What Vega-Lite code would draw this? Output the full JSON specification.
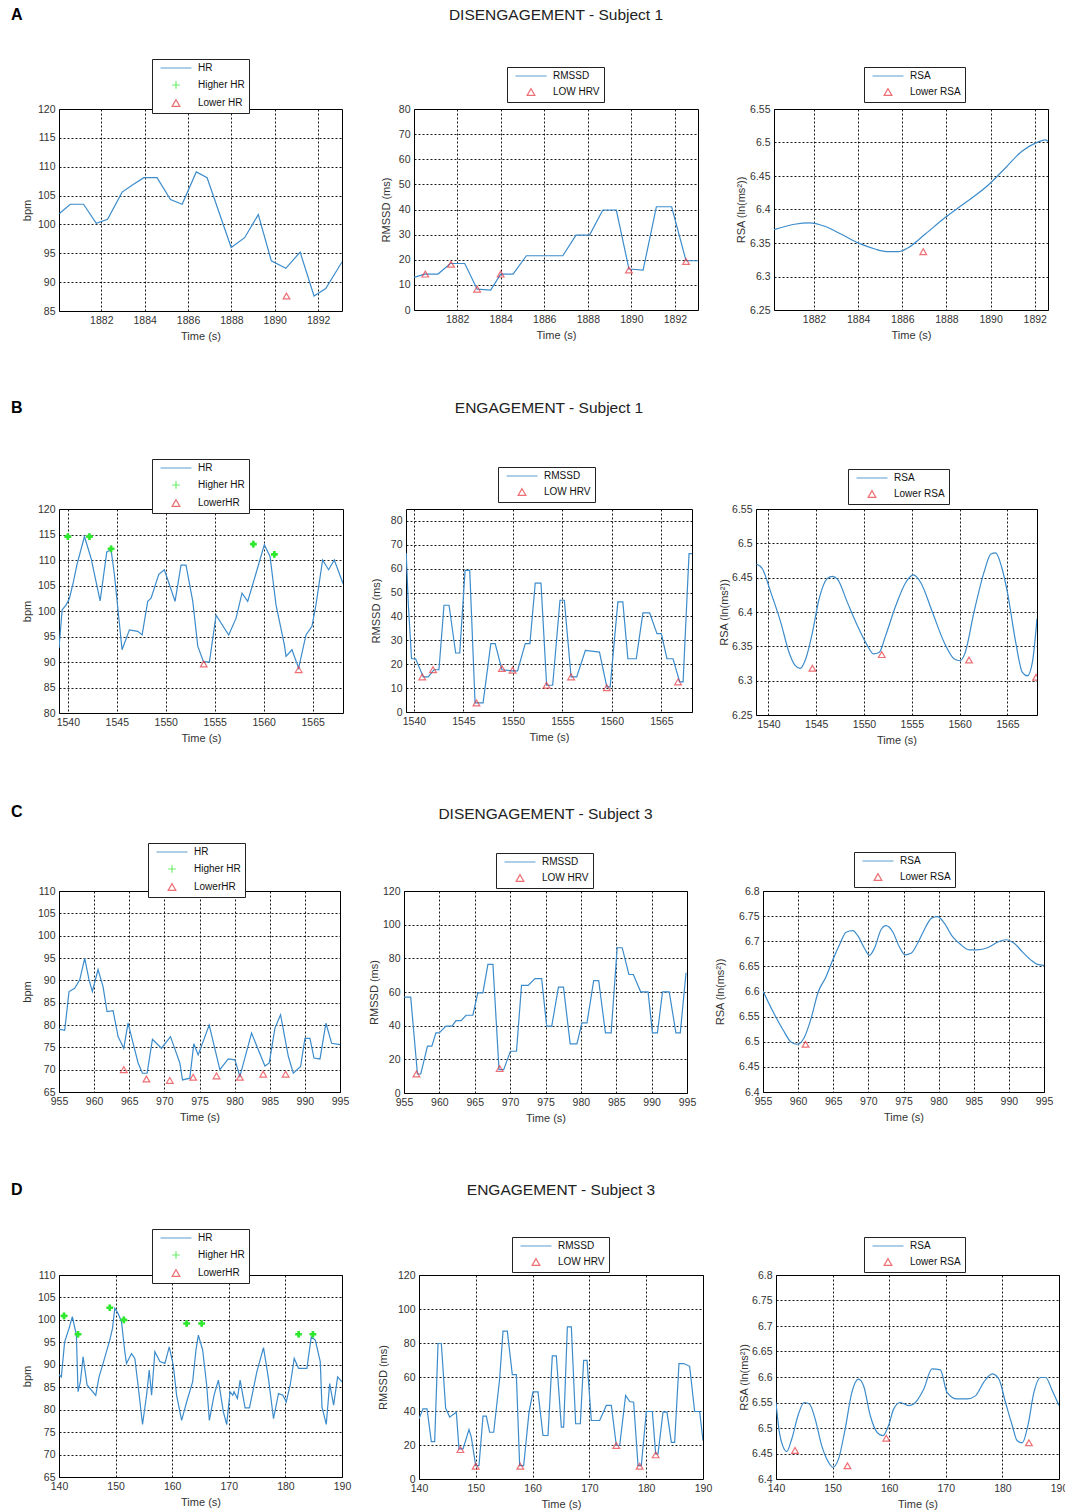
{
"$schema": "https://vega.github.io/schema/vega-lite/v6.json",
"padding": {"left": 10, "top": 6, "right": 0, "bottom": 0},
"background": "white",
"columns": 1,
"align": "none",
"spacing": 57,
"resolve": {"scale": {"color": "independent", "shape": "independent"}, "legend": {"color": "independent", "shape": "independent"}},
"config": {
  "font": "Liberation Sans",
  "view": {"stroke": "#000", "strokeWidth": 1},
  "axis": {"grid": true, "gridColor": "#000", "gridDash": [2, 2], "gridWidth": 1, "gridOpacity": 0.9, "domain": false, "ticks": false, "labelFont": "Liberation Sans", "labelFontSize": 10.5, "labelColor": "#333", "labelPadding": 4, "labelFlush": false, "labelOverlap": false, "titleFont": "Liberation Sans", "titleFontSize": 11, "titleFontWeight": "normal", "titleColor": "#333", "titlePadding": 5},
  "legend": {"orient": "none", "direction": "vertical", "strokeColor": "#222", "fillColor": "#fff", "padding": 4, "labelFont": "Liberation Sans", "labelFontSize": 10, "labelColor": "#111", "symbolSize": 60, "symbolStrokeWidth": 1.5, "symbolOffset": 15, "labelOffset": 17, "rowPadding": 5, "cornerRadius": 0},
  "title": {"font": "Liberation Sans", "color": "#222"},
  "point": {"filled": false, "size": 45, "strokeWidth": 1.2}
},
"concat": [
 {
  "spacing": 36,
  "resolve": {"scale": {"color": "independent", "shape": "independent"}, "legend": {"color": "independent", "shape": "independent"}},
  "hconcat": [
   {
    "width": 283, "height": 202,
    "title": {"text": "A", "anchor": "start", "frame": "group", "dx": -48, "fontSize": 16, "fontWeight": "bold", "offset": 36, "color": "#000"},
    "data": {"values": [{"t": 1890.54, "v": 87.6, "s": "Lower HR"}]},
    "encoding": {
      "x": {"field": "t", "type": "quantitative", "scale": {"domain": [1880.05, 1893.1], "nice": false, "zero": false}, "axis": {"title": "Time (s)", "values": [1882, 1884, 1886, 1888, 1890, 1892], "format": "d"}},
      "y": {"field": "v", "type": "quantitative", "scale": {"domain": [85, 120], "nice": false, "zero": false}, "axis": {"title": "bpm", "values": [85, 90, 95, 100, 105, 110, 115, 120], "format": "d"}}
    },
    "layer": [
     {"data": {"values": [
      {"t": 1880.07, "v": 101.9}, {"t": 1880.57, "v": 103.5}, {"t": 1881.18, "v": 103.5}, {"t": 1881.77, "v": 100.2}, {"t": 1882.29, "v": 100.9}, {"t": 1882.96, "v": 105.6}, {"t": 1883.42, "v": 106.8}, {"t": 1883.96, "v": 108.1}, {"t": 1884.57, "v": 108.1}, {"t": 1885.19, "v": 104.3}, {"t": 1885.73, "v": 103.5}, {"t": 1886.38, "v": 109.1}, {"t": 1886.88, "v": 108.1}, {"t": 1887.99, "v": 96.0}, {"t": 1888.61, "v": 97.7}, {"t": 1889.24, "v": 101.7}, {"t": 1889.84, "v": 93.7}, {"t": 1890.51, "v": 92.4}, {"t": 1891.17, "v": 95.2}, {"t": 1891.81, "v": 87.6}, {"t": 1892.35, "v": 88.9}, {"t": 1893.1, "v": 93.5}
     ]},
      "mark": {"type": "line", "color": "#3c8ccc", "strokeWidth": 1.2, "clip": true}},
     {"mark": {"type": "point", "clip": true},
      "encoding": {
       "color": {"field": "s", "type": "nominal", "title": null, "scale": {"domain": ["HR", "Higher HR", "Lower HR"], "range": ["#3c8ccc", "#2ee82e", "#e8343c"]}, "legend": {"title": null, "legendX": 93, "legendY": -50}},
       "shape": {"field": "s", "type": "nominal", "title": null, "scale": {"domain": ["HR", "Higher HR", "Lower HR"], "range": ["M-4,0H4", "M-1,0H1M0,-1V1", "triangle-up"]}, "legend": {"title": null, "legendX": 93, "legendY": -50}}
      }}
    ]
   },
   {
    "width": 284, "height": 201,
    "title": {"text": "DISENGAGEMENT - Subject 1", "anchor": "middle", "frame": "group", "fontSize": 15.5, "fontWeight": "normal", "offset": 43},
    "encoding": {
      "x": {"field": "t", "type": "quantitative", "scale": {"domain": [1880.02, 1893.06], "nice": false, "zero": false}, "axis": {"title": "Time (s)", "values": [1882, 1884, 1886, 1888, 1890, 1892], "format": "d"}},
      "y": {"field": "v", "type": "quantitative", "scale": {"domain": [0, 80], "nice": false}, "axis": {"title": "RMSSD (ms)", "titlePadding": 7, "values": [0, 10, 20, 30, 40, 50, 60, 70, 80], "format": "d"}}
    },
    "layer": [
     {"data": {"values": [
      {"t": 1880.02, "v": 13.0}, {"t": 1880.51, "v": 14.3}, {"t": 1881.12, "v": 14.3}, {"t": 1881.69, "v": 18.5}, {"t": 1882.35, "v": 18.5}, {"t": 1882.92, "v": 8.3}, {"t": 1883.54, "v": 7.9}, {"t": 1884.0, "v": 14.3}, {"t": 1884.57, "v": 14.3}, {"t": 1885.18, "v": 21.6}, {"t": 1886.85, "v": 21.6}, {"t": 1887.46, "v": 29.8}, {"t": 1888.08, "v": 29.8}, {"t": 1888.69, "v": 39.8}, {"t": 1889.31, "v": 39.8}, {"t": 1889.89, "v": 16.3}, {"t": 1890.54, "v": 15.9}, {"t": 1891.15, "v": 41.1}, {"t": 1891.85, "v": 41.1}, {"t": 1892.51, "v": 19.6}, {"t": 1893.06, "v": 19.6}
     ]},
      "mark": {"type": "line", "color": "#3c8ccc", "strokeWidth": 1.2, "clip": true}},
     {"data": {"values": [
      {"t": 1880.54, "v": 14.3, "s": "LOW HRV"}, {"t": 1881.72, "v": 18.2, "s": "LOW HRV"}, {"t": 1882.92, "v": 8.3, "s": "LOW HRV"}, {"t": 1884.0, "v": 14.3, "s": "LOW HRV"}, {"t": 1889.89, "v": 15.9, "s": "LOW HRV"}, {"t": 1892.51, "v": 19.3, "s": "LOW HRV"}
     ]},
      "mark": {"type": "point", "clip": true},
      "encoding": {
       "color": {"field": "s", "type": "nominal", "title": null, "scale": {"domain": ["RMSSD", "LOW HRV"], "range": ["#3c8ccc", "#e8343c"]}, "legend": {"title": null, "legendX": 93, "legendY": -42}},
       "shape": {"field": "s", "type": "nominal", "title": null, "scale": {"domain": ["RMSSD", "LOW HRV"], "range": ["M-4,0H4", "triangle-up"]}, "legend": {"title": null, "legendX": 93, "legendY": -42}}
      }}
    ]
   },
   {
    "width": 274, "height": 201,
    "encoding": {
      "x": {"field": "t", "type": "quantitative", "scale": {"domain": [1880.19, 1892.6], "nice": false, "zero": false}, "axis": {"title": "Time (s)", "values": [1882, 1884, 1886, 1888, 1890, 1892], "format": "d"}},
      "y": {"field": "v", "type": "quantitative", "scale": {"domain": [6.25, 6.55], "nice": false, "zero": false}, "axis": {"title": "RSA (ln(ms²))", "titlePadding": 3, "values": [6.25, 6.3, 6.35, 6.4, 6.45, 6.5, 6.55], "format": "~g"}}
    },
    "layer": [
     {"data": {"values": [
      {"t": 1880.19, "v": 6.370}, {"t": 1881.12, "v": 6.378}, {"t": 1881.8, "v": 6.380}, {"t": 1882.48, "v": 6.375}, {"t": 1883.24, "v": 6.363}, {"t": 1884.08, "v": 6.349}, {"t": 1884.76, "v": 6.341}, {"t": 1885.36, "v": 6.337}, {"t": 1885.82, "v": 6.337}, {"t": 1886.27, "v": 6.343}, {"t": 1887.03, "v": 6.363}, {"t": 1887.94, "v": 6.388}, {"t": 1888.85, "v": 6.410}, {"t": 1889.91, "v": 6.437}, {"t": 1890.67, "v": 6.462}, {"t": 1891.42, "v": 6.487}, {"t": 1892.03, "v": 6.499}, {"t": 1892.48, "v": 6.504}, {"t": 1892.6, "v": 6.502}
     ]},
      "mark": {"type": "line", "color": "#3c8ccc", "strokeWidth": 1.2, "clip": true, "interpolate": "monotone"}},
     {"data": {"values": [{"t": 1886.95, "v": 6.337, "s": "Lower RSA"}]},
      "mark": {"type": "point", "clip": true},
      "encoding": {
       "color": {"field": "s", "type": "nominal", "title": null, "scale": {"domain": ["RSA", "Lower RSA"], "range": ["#3c8ccc", "#e8343c"]}, "legend": {"title": null, "legendX": 90, "legendY": -42}},
       "shape": {"field": "s", "type": "nominal", "title": null, "scale": {"domain": ["RSA", "Lower RSA"], "range": ["M-4,0H4", "triangle-up"]}, "legend": {"title": null, "legendX": 90, "legendY": -42}}
      }}
    ]
   }
  ]
 },
 {
  "spacing": 25,
  "resolve": {"scale": {"color": "independent", "shape": "independent"}, "legend": {"color": "independent", "shape": "independent"}},
  "hconcat": [
   {
    "width": 284, "height": 204,
    "title": {"text": "B", "anchor": "start", "frame": "group", "dx": -48, "fontSize": 16, "fontWeight": "bold", "offset": 43, "color": "#000"},
    "data": {"values": [
      {"t": 1540.0, "v": 114.6, "s": "Higher HR"}, {"t": 1542.21, "v": 114.6, "s": "Higher HR"}, {"t": 1544.42, "v": 112.2, "s": "Higher HR"}, {"t": 1558.95, "v": 113.1, "s": "Higher HR"}, {"t": 1561.09, "v": 111.1, "s": "Higher HR"}, {"t": 1553.88, "v": 89.6, "s": "LowerHR"}, {"t": 1563.57, "v": 88.5, "s": "LowerHR"}
    ]},
    "encoding": {
      "x": {"field": "t", "type": "quantitative", "scale": {"domain": [1539.1, 1568.1], "nice": false, "zero": false}, "axis": {"title": "Time (s)", "values": [1540, 1545, 1550, 1555, 1560, 1565], "format": "d"}},
      "y": {"field": "v", "type": "quantitative", "scale": {"domain": [80, 120], "nice": false, "zero": false}, "axis": {"title": "bpm", "values": [80, 85, 90, 95, 100, 105, 110, 115, 120], "format": "d"}}
    },
    "layer": [
     {"data": {"values": [
      {"t": 1539.1, "v": 92.7}, {"t": 1539.42, "v": 100.2}, {"t": 1539.83, "v": 101.2}, {"t": 1540.17, "v": 102.5}, {"t": 1540.58, "v": 105.8}, {"t": 1540.92, "v": 109.0}, {"t": 1541.7, "v": 114.6}, {"t": 1542.38, "v": 110.3}, {"t": 1543.3, "v": 102.0}, {"t": 1543.98, "v": 111.6}, {"t": 1544.42, "v": 112.0}, {"t": 1544.76, "v": 107.1}, {"t": 1545.54, "v": 92.4}, {"t": 1546.29, "v": 96.3}, {"t": 1547.14, "v": 96.0}, {"t": 1547.59, "v": 95.3}, {"t": 1548.16, "v": 101.9}, {"t": 1548.5, "v": 102.5}, {"t": 1549.29, "v": 107.2}, {"t": 1549.86, "v": 108.1}, {"t": 1550.95, "v": 101.9}, {"t": 1551.56, "v": 109.0}, {"t": 1552.07, "v": 109.0}, {"t": 1552.76, "v": 101.9}, {"t": 1553.27, "v": 93.1}, {"t": 1553.84, "v": 90.1}, {"t": 1554.46, "v": 90.0}, {"t": 1555.14, "v": 99.2}, {"t": 1556.43, "v": 95.3}, {"t": 1557.18, "v": 98.6}, {"t": 1557.79, "v": 103.5}, {"t": 1558.37, "v": 101.9}, {"t": 1559.22, "v": 107.4}, {"t": 1560.07, "v": 113.0}, {"t": 1560.65, "v": 110.7}, {"t": 1561.26, "v": 101.2}, {"t": 1562.11, "v": 93.4}, {"t": 1562.28, "v": 91.1}, {"t": 1562.89, "v": 92.4}, {"t": 1563.57, "v": 88.8}, {"t": 1564.32, "v": 95.3}, {"t": 1564.93, "v": 97.0}, {"t": 1565.34, "v": 101.2}, {"t": 1566.02, "v": 110.0}, {"t": 1566.63, "v": 108.1}, {"t": 1567.21, "v": 110.0}, {"t": 1568.1, "v": 105.4}
     ]},
      "mark": {"type": "line", "color": "#3c8ccc", "strokeWidth": 1.2, "clip": true}},
     {"mark": {"type": "point", "clip": true},
      "encoding": {
       "color": {"field": "s", "type": "nominal", "title": null, "scale": {"domain": ["HR", "Higher HR", "LowerHR"], "range": ["#3c8ccc", "#2ee82e", "#e8343c"]}, "legend": {"title": null, "legendX": 93, "legendY": -50}},
       "shape": {"field": "s", "type": "nominal", "title": null, "scale": {"domain": ["HR", "Higher HR", "LowerHR"], "range": ["M-4,0H4", "M-1,0H1M0,-1V1", "triangle-up"]}, "legend": {"title": null, "legendX": 93, "legendY": -50}}
      }},
     {"transform": [{"filter": "datum.s == 'Higher HR'"}],
      "mark": {"type": "point", "shape": "cross", "filled": true, "color": "#2ee82e", "size": 45, "opacity": 1, "clip": true}}
    ]
   },
   {
    "width": 286, "height": 203,
    "title": {"text": "ENGAGEMENT - Subject 1", "anchor": "middle", "frame": "group", "fontSize": 15.5, "fontWeight": "normal", "offset": 50},
    "encoding": {
      "x": {"field": "t", "type": "quantitative", "scale": {"domain": [1539.2, 1568.1], "nice": false, "zero": false}, "axis": {"title": "Time (s)", "values": [1540, 1545, 1550, 1555, 1560, 1565], "format": "d"}},
      "y": {"field": "v", "type": "quantitative", "scale": {"domain": [0, 85], "nice": false}, "axis": {"title": "RMSSD (ms)", "titlePadding": 9, "values": [0, 10, 20, 30, 40, 50, 60, 70, 80], "format": "d"}}
    },
    "layer": [
     {"data": {"values": [
      {"t": 1539.22, "v": 66.6}, {"t": 1539.43, "v": 45.4}, {"t": 1539.76, "v": 22.3}, {"t": 1540.17, "v": 22.3}, {"t": 1540.95, "v": 14.7}, {"t": 1541.45, "v": 14.7}, {"t": 1542.03, "v": 17.7}, {"t": 1542.53, "v": 17.7}, {"t": 1543.04, "v": 44.7}, {"t": 1543.55, "v": 44.7}, {"t": 1544.22, "v": 24.7}, {"t": 1544.63, "v": 24.7}, {"t": 1545.17, "v": 59.3}, {"t": 1545.64, "v": 59.3}, {"t": 1546.18, "v": 3.8}, {"t": 1546.99, "v": 3.8}, {"t": 1547.77, "v": 28.6}, {"t": 1548.21, "v": 28.6}, {"t": 1548.89, "v": 17.7}, {"t": 1549.9, "v": 17.2}, {"t": 1550.47, "v": 17.2}, {"t": 1551.25, "v": 28.6}, {"t": 1551.72, "v": 28.6}, {"t": 1552.26, "v": 54.0}, {"t": 1552.84, "v": 54.0}, {"t": 1553.41, "v": 11.2}, {"t": 1554.02, "v": 11.2}, {"t": 1554.76, "v": 46.8}, {"t": 1555.2, "v": 46.8}, {"t": 1555.88, "v": 14.7}, {"t": 1556.45, "v": 14.7}, {"t": 1557.33, "v": 25.8}, {"t": 1558.75, "v": 25.1}, {"t": 1559.49, "v": 10.5}, {"t": 1559.83, "v": 10.5}, {"t": 1560.61, "v": 46.1}, {"t": 1561.11, "v": 46.1}, {"t": 1561.62, "v": 22.3}, {"t": 1562.47, "v": 22.3}, {"t": 1563.14, "v": 41.5}, {"t": 1563.82, "v": 41.5}, {"t": 1564.56, "v": 32.8}, {"t": 1565.0, "v": 32.8}, {"t": 1565.57, "v": 22.3}, {"t": 1566.18, "v": 22.3}, {"t": 1566.86, "v": 12.6}, {"t": 1567.2, "v": 12.6}, {"t": 1567.8, "v": 66.3}, {"t": 1568.1, "v": 66.3}
     ]},
      "mark": {"type": "line", "color": "#3c8ccc", "strokeWidth": 1.2, "clip": true}},
     {"data": {"values": [
      {"t": 1540.84, "v": 14.7, "s": "LOW HRV"}, {"t": 1541.93, "v": 17.7, "s": "LOW HRV"}, {"t": 1546.32, "v": 3.8, "s": "LOW HRV"}, {"t": 1548.89, "v": 18.2, "s": "LOW HRV"}, {"t": 1549.97, "v": 17.5, "s": "LOW HRV"}, {"t": 1553.41, "v": 11.2, "s": "LOW HRV"}, {"t": 1555.88, "v": 14.7, "s": "LOW HRV"}, {"t": 1559.49, "v": 10.2, "s": "LOW HRV"}, {"t": 1566.69, "v": 12.6, "s": "LOW HRV"}
     ]},
      "mark": {"type": "point", "clip": true},
      "encoding": {
       "color": {"field": "s", "type": "nominal", "title": null, "scale": {"domain": ["RMSSD", "LOW HRV"], "range": ["#3c8ccc", "#e8343c"]}, "legend": {"title": null, "legendX": 92, "legendY": -42}},
       "shape": {"field": "s", "type": "nominal", "title": null, "scale": {"domain": ["RMSSD", "LOW HRV"], "range": ["M-4,0H4", "triangle-up"]}, "legend": {"title": null, "legendX": 92, "legendY": -42}}
      }}
    ]
   },
   {
    "width": 281, "height": 206,
    "encoding": {
      "x": {"field": "t", "type": "quantitative", "scale": {"domain": [1538.7, 1568.1], "nice": false, "zero": false}, "axis": {"title": "Time (s)", "values": [1540, 1545, 1550, 1555, 1560, 1565], "format": "d"}},
      "y": {"field": "v", "type": "quantitative", "scale": {"domain": [6.25, 6.55], "nice": false, "zero": false}, "axis": {"title": "RSA (ln(ms²))", "titlePadding": 2, "values": [6.25, 6.3, 6.35, 6.4, 6.45, 6.5, 6.55], "format": "~g"}}
    },
    "layer": [
     {"data": {"values": [
      {"t": 1538.74, "v": 6.470}, {"t": 1539.37, "v": 6.463}, {"t": 1540.24, "v": 6.429}, {"t": 1541.29, "v": 6.385}, {"t": 1542.16, "v": 6.341}, {"t": 1542.75, "v": 6.323}, {"t": 1543.31, "v": 6.318}, {"t": 1543.91, "v": 6.332}, {"t": 1544.6, "v": 6.370}, {"t": 1545.3, "v": 6.419}, {"t": 1546.17, "v": 6.449}, {"t": 1546.69, "v": 6.452}, {"t": 1547.22, "v": 6.448}, {"t": 1548.26, "v": 6.414}, {"t": 1549.31, "v": 6.380}, {"t": 1550.36, "v": 6.351}, {"t": 1550.98, "v": 6.339}, {"t": 1551.58, "v": 6.341}, {"t": 1552.27, "v": 6.366}, {"t": 1553.32, "v": 6.409}, {"t": 1554.37, "v": 6.443}, {"t": 1555.17, "v": 6.454}, {"t": 1555.93, "v": 6.443}, {"t": 1557.15, "v": 6.400}, {"t": 1558.38, "v": 6.356}, {"t": 1559.42, "v": 6.332}, {"t": 1560.05, "v": 6.329}, {"t": 1560.54, "v": 6.339}, {"t": 1561.51, "v": 6.400}, {"t": 1562.56, "v": 6.458}, {"t": 1563.26, "v": 6.484}, {"t": 1563.78, "v": 6.486}, {"t": 1564.37, "v": 6.467}, {"t": 1565.0, "v": 6.429}, {"t": 1565.87, "v": 6.356}, {"t": 1566.57, "v": 6.312}, {"t": 1567.09, "v": 6.307}, {"t": 1567.62, "v": 6.327}, {"t": 1568.1, "v": 6.390}
     ]},
      "mark": {"type": "line", "color": "#3c8ccc", "strokeWidth": 1.2, "clip": true, "interpolate": "monotone"}},
     {"data": {"values": [
      {"t": 1544.6, "v": 6.318, "s": "Lower RSA"}, {"t": 1551.86, "v": 6.338, "s": "Lower RSA"}, {"t": 1560.99, "v": 6.330, "s": "Lower RSA"}, {"t": 1568.0, "v": 6.305, "s": "Lower RSA"}
     ]},
      "mark": {"type": "point", "clip": true},
      "encoding": {
       "color": {"field": "s", "type": "nominal", "title": null, "scale": {"domain": ["RSA", "Lower RSA"], "range": ["#3c8ccc", "#e8343c"]}, "legend": {"title": null, "legendX": 92, "legendY": -40}},
       "shape": {"field": "s", "type": "nominal", "title": null, "scale": {"domain": ["RSA", "Lower RSA"], "range": ["M-4,0H4", "triangle-up"]}, "legend": {"title": null, "legendX": 92, "legendY": -40}}
      }}
    ]
   }
  ]
 },
 {
  "spacing": 17,
  "resolve": {"scale": {"color": "independent", "shape": "independent"}, "legend": {"color": "independent", "shape": "independent"}},
  "hconcat": [
   {
    "width": 281, "height": 201,
    "title": {"text": "C", "anchor": "start", "frame": "group", "dx": -48, "fontSize": 16, "fontWeight": "bold", "offset": 23, "color": "#000"},
    "data": {"values": [
      {"t": 964.22, "v": 70.0, "s": "LowerHR"}, {"t": 967.45, "v": 67.9, "s": "LowerHR"}, {"t": 970.77, "v": 67.6, "s": "LowerHR"}, {"t": 974.1, "v": 68.3, "s": "LowerHR"}, {"t": 977.42, "v": 68.6, "s": "LowerHR"}, {"t": 980.75, "v": 68.3, "s": "LowerHR"}, {"t": 984.07, "v": 69.0, "s": "LowerHR"}, {"t": 987.26, "v": 69.0, "s": "LowerHR"}
    ]},
    "encoding": {
      "x": {"field": "t", "type": "quantitative", "scale": {"domain": [955, 995], "nice": false, "zero": false}, "axis": {"title": "Time (s)", "values": [955, 960, 965, 970, 975, 980, 985, 990, 995], "format": "d"}},
      "y": {"field": "v", "type": "quantitative", "scale": {"domain": [65, 110], "nice": false, "zero": false}, "axis": {"title": "bpm", "values": [65, 70, 75, 80, 85, 90, 95, 100, 105, 110], "format": "d"}}
    },
    "layer": [
     {"data": {"values": [
      {"t": 955.0, "v": 79.1}, {"t": 955.81, "v": 78.8}, {"t": 956.43, "v": 87.5}, {"t": 957.23, "v": 88.2}, {"t": 957.95, "v": 90.1}, {"t": 958.66, "v": 94.9}, {"t": 959.28, "v": 90.1}, {"t": 959.75, "v": 87.5}, {"t": 960.56, "v": 92.4}, {"t": 961.27, "v": 88.6}, {"t": 961.84, "v": 83.0}, {"t": 962.7, "v": 83.2}, {"t": 963.41, "v": 77.4}, {"t": 964.22, "v": 74.8}, {"t": 964.83, "v": 80.4}, {"t": 966.26, "v": 71.5}, {"t": 966.88, "v": 69.2}, {"t": 967.54, "v": 69.2}, {"t": 968.3, "v": 76.8}, {"t": 969.58, "v": 74.8}, {"t": 970.87, "v": 77.4}, {"t": 972.2, "v": 71.5}, {"t": 972.58, "v": 67.7}, {"t": 973.62, "v": 68.1}, {"t": 974.19, "v": 75.8}, {"t": 974.81, "v": 73.3}, {"t": 976.38, "v": 80.0}, {"t": 977.9, "v": 70.0}, {"t": 979.09, "v": 72.4}, {"t": 980.04, "v": 72.2}, {"t": 980.75, "v": 68.5}, {"t": 982.41, "v": 78.2}, {"t": 984.31, "v": 70.8}, {"t": 984.93, "v": 71.5}, {"t": 985.74, "v": 79.3}, {"t": 986.54, "v": 82.3}, {"t": 987.64, "v": 73.0}, {"t": 988.35, "v": 69.2}, {"t": 989.39, "v": 70.7}, {"t": 990.01, "v": 77.0}, {"t": 990.72, "v": 77.0}, {"t": 991.3, "v": 72.6}, {"t": 992.15, "v": 72.4}, {"t": 993.0, "v": 80.4}, {"t": 993.81, "v": 75.9}, {"t": 995.0, "v": 75.6}
     ]},
      "mark": {"type": "line", "color": "#3c8ccc", "strokeWidth": 1.2, "clip": true}},
     {"mark": {"type": "point", "clip": true},
      "encoding": {
       "color": {"field": "s", "type": "nominal", "title": null, "scale": {"domain": ["HR", "Higher HR", "LowerHR"], "range": ["#3c8ccc", "#2ee82e", "#e8343c"]}, "legend": {"title": null, "legendX": 89, "legendY": -48}},
       "shape": {"field": "s", "type": "nominal", "title": null, "scale": {"domain": ["HR", "Higher HR", "LowerHR"], "range": ["M-4,0H4", "M-1,0H1M0,-1V1", "triangle-up"]}, "legend": {"title": null, "legendX": 89, "legendY": -48}}
      }}
    ]
   },
   {
    "width": 283, "height": 202,
    "title": {"text": "DISENGAGEMENT - Subject 3", "anchor": "middle", "frame": "group", "fontSize": 15.5, "fontWeight": "normal", "offset": 30},
    "encoding": {
      "x": {"field": "t", "type": "quantitative", "scale": {"domain": [955, 995], "nice": false, "zero": false}, "axis": {"title": "Time (s)", "values": [955, 960, 965, 970, 975, 980, 985, 990, 995], "format": "d"}},
      "y": {"field": "v", "type": "quantitative", "scale": {"domain": [0, 120], "nice": false}, "axis": {"title": "RMSSD (ms)", "titlePadding": 3, "values": [0, 20, 40, 60, 80, 100, 120], "format": "d"}}
    },
    "layer": [
     {"data": {"values": [
      {"t": 955.0, "v": 56.9}, {"t": 955.95, "v": 56.9}, {"t": 956.9, "v": 11.3}, {"t": 957.37, "v": 11.3}, {"t": 958.32, "v": 27.8}, {"t": 958.94, "v": 27.8}, {"t": 959.51, "v": 35.7}, {"t": 959.98, "v": 35.7}, {"t": 960.93, "v": 39.7}, {"t": 961.79, "v": 39.7}, {"t": 962.35, "v": 43.0}, {"t": 963.07, "v": 43.0}, {"t": 963.78, "v": 46.2}, {"t": 964.73, "v": 46.2}, {"t": 965.44, "v": 59.5}, {"t": 966.15, "v": 59.5}, {"t": 966.86, "v": 76.4}, {"t": 967.57, "v": 76.4}, {"t": 968.43, "v": 13.9}, {"t": 969.09, "v": 13.9}, {"t": 970.04, "v": 24.8}, {"t": 970.9, "v": 24.8}, {"t": 971.61, "v": 63.9}, {"t": 972.56, "v": 63.9}, {"t": 973.51, "v": 68.0}, {"t": 974.45, "v": 68.0}, {"t": 975.17, "v": 39.7}, {"t": 975.88, "v": 39.7}, {"t": 976.83, "v": 62.9}, {"t": 977.54, "v": 62.9}, {"t": 978.49, "v": 29.2}, {"t": 979.44, "v": 29.2}, {"t": 980.15, "v": 41.6}, {"t": 980.86, "v": 41.6}, {"t": 981.81, "v": 66.8}, {"t": 982.52, "v": 66.8}, {"t": 983.47, "v": 35.7}, {"t": 984.28, "v": 35.7}, {"t": 985.13, "v": 86.3}, {"t": 985.84, "v": 86.3}, {"t": 986.79, "v": 70.4}, {"t": 987.41, "v": 70.4}, {"t": 988.45, "v": 60.1}, {"t": 989.5, "v": 60.1}, {"t": 990.11, "v": 35.7}, {"t": 990.82, "v": 35.7}, {"t": 991.54, "v": 60.1}, {"t": 992.49, "v": 60.1}, {"t": 993.43, "v": 35.7}, {"t": 994.05, "v": 35.7}, {"t": 994.86, "v": 71.4}
     ]},
      "mark": {"type": "line", "color": "#3c8ccc", "strokeWidth": 1.2, "clip": true}},
     {"data": {"values": [
      {"t": 956.76, "v": 11.3, "s": "LOW HRV"}, {"t": 968.52, "v": 14.5, "s": "LOW HRV"}
     ]},
      "mark": {"type": "point", "clip": true},
      "encoding": {
       "color": {"field": "s", "type": "nominal", "title": null, "scale": {"domain": ["RMSSD", "LOW HRV"], "range": ["#3c8ccc", "#e8343c"]}, "legend": {"title": null, "legendX": 92, "legendY": -38}},
       "shape": {"field": "s", "type": "nominal", "title": null, "scale": {"domain": ["RMSSD", "LOW HRV"], "range": ["M-4,0H4", "triangle-up"]}, "legend": {"title": null, "legendX": 92, "legendY": -38}}
      }}
    ]
   },
   {
    "width": 281, "height": 201,
    "encoding": {
      "x": {"field": "t", "type": "quantitative", "scale": {"domain": [955, 995], "nice": false, "zero": false}, "axis": {"title": "Time (s)", "values": [955, 960, 965, 970, 975, 980, 985, 990, 995], "format": "d"}},
      "y": {"field": "v", "type": "quantitative", "scale": {"domain": [6.4, 6.8], "nice": false, "zero": false}, "axis": {"title": "RSA (ln(ms²))", "titlePadding": 13, "values": [6.4, 6.45, 6.5, 6.55, 6.6, 6.65, 6.7, 6.75, 6.8], "format": "~g"}}
    },
    "layer": [
     {"data": {"values": [
      {"t": 955.0, "v": 6.601}, {"t": 956.42, "v": 6.560}, {"t": 957.84, "v": 6.524}, {"t": 959.02, "v": 6.499}, {"t": 959.88, "v": 6.495}, {"t": 960.82, "v": 6.507}, {"t": 961.86, "v": 6.547}, {"t": 962.81, "v": 6.597}, {"t": 963.99, "v": 6.630}, {"t": 964.94, "v": 6.663}, {"t": 965.89, "v": 6.693}, {"t": 966.83, "v": 6.718}, {"t": 967.78, "v": 6.721}, {"t": 968.49, "v": 6.711}, {"t": 969.44, "v": 6.686}, {"t": 970.15, "v": 6.672}, {"t": 970.86, "v": 6.686}, {"t": 971.8, "v": 6.723}, {"t": 972.51, "v": 6.731}, {"t": 973.46, "v": 6.719}, {"t": 974.41, "v": 6.689}, {"t": 975.21, "v": 6.673}, {"t": 976.07, "v": 6.676}, {"t": 977.01, "v": 6.696}, {"t": 977.96, "v": 6.723}, {"t": 979.0, "v": 6.746}, {"t": 979.85, "v": 6.749}, {"t": 980.8, "v": 6.736}, {"t": 981.98, "v": 6.709}, {"t": 983.17, "v": 6.693}, {"t": 984.35, "v": 6.683}, {"t": 985.53, "v": 6.683}, {"t": 986.95, "v": 6.687}, {"t": 988.37, "v": 6.698}, {"t": 989.56, "v": 6.703}, {"t": 990.74, "v": 6.696}, {"t": 991.92, "v": 6.679}, {"t": 993.11, "v": 6.663}, {"t": 994.05, "v": 6.654}, {"t": 995.0, "v": 6.652}
     ]},
      "mark": {"type": "line", "color": "#3c8ccc", "strokeWidth": 1.2, "clip": true, "interpolate": "monotone"}},
     {"data": {"values": [{"t": 961.06, "v": 6.495, "s": "Lower RSA"}]},
      "mark": {"type": "point", "clip": true},
      "encoding": {
       "color": {"field": "s", "type": "nominal", "title": null, "scale": {"domain": ["RSA", "Lower RSA"], "range": ["#3c8ccc", "#e8343c"]}, "legend": {"title": null, "legendX": 91, "legendY": -39}},
       "shape": {"field": "s", "type": "nominal", "title": null, "scale": {"domain": ["RSA", "Lower RSA"], "range": ["M-4,0H4", "triangle-up"]}, "legend": {"title": null, "legendX": 91, "legendY": -39}}
      }}
    ]
   }
  ]
 },
 {
  "spacing": 25,
  "resolve": {"scale": {"color": "independent", "shape": "independent"}, "legend": {"color": "independent", "shape": "independent"}},
  "hconcat": [
   {
    "width": 283, "height": 202,
    "title": {"text": "D", "anchor": "start", "frame": "group", "dx": -48, "fontSize": 16, "fontWeight": "bold", "offset": 31, "color": "#000"},
    "data": {"values": [
      {"t": 140.89, "v": 100.9, "s": "Higher HR"}, {"t": 143.36, "v": 96.8, "s": "Higher HR"}, {"t": 148.97, "v": 102.7, "s": "Higher HR"}, {"t": 151.45, "v": 100.0, "s": "Higher HR"}, {"t": 162.55, "v": 99.2, "s": "Higher HR"}, {"t": 165.21, "v": 99.2, "s": "Higher HR"}, {"t": 182.33, "v": 96.8, "s": "Higher HR"}, {"t": 184.86, "v": 96.8, "s": "Higher HR"}
    ]},
    "encoding": {
      "x": {"field": "t", "type": "quantitative", "scale": {"domain": [140, 190], "nice": false, "zero": false}, "axis": {"title": "Time (s)", "values": [140, 150, 160, 170, 180, 190], "format": "d"}},
      "y": {"field": "v", "type": "quantitative", "scale": {"domain": [65, 110], "nice": false, "zero": false}, "axis": {"title": "bpm", "values": [65, 70, 75, 80, 85, 90, 95, 100, 105, 110], "format": "d"}}
    },
    "layer": [
     {"data": {"values": [
      {"t": 140.0, "v": 87.8}, {"t": 140.41, "v": 87.3}, {"t": 141.0, "v": 95.1}, {"t": 141.77, "v": 98.1}, {"t": 142.36, "v": 100.7}, {"t": 143.07, "v": 96.6}, {"t": 143.36, "v": 84.0}, {"t": 143.78, "v": 86.2}, {"t": 144.25, "v": 91.8}, {"t": 144.96, "v": 85.5}, {"t": 146.49, "v": 83.2}, {"t": 147.08, "v": 87.3}, {"t": 147.79, "v": 90.3}, {"t": 148.97, "v": 95.5}, {"t": 149.45, "v": 98.1}, {"t": 149.86, "v": 102.6}, {"t": 150.45, "v": 101.4}, {"t": 151.04, "v": 99.6}, {"t": 151.63, "v": 92.9}, {"t": 151.92, "v": 90.3}, {"t": 152.81, "v": 92.5}, {"t": 153.4, "v": 91.4}, {"t": 154.0, "v": 85.1}, {"t": 154.76, "v": 76.7}, {"t": 155.47, "v": 83.2}, {"t": 155.94, "v": 88.8}, {"t": 156.36, "v": 83.2}, {"t": 156.94, "v": 92.9}, {"t": 157.83, "v": 90.7}, {"t": 158.71, "v": 90.3}, {"t": 159.48, "v": 94.0}, {"t": 160.19, "v": 89.9}, {"t": 160.78, "v": 83.2}, {"t": 161.67, "v": 77.6}, {"t": 162.55, "v": 81.7}, {"t": 163.61, "v": 86.2}, {"t": 164.2, "v": 93.3}, {"t": 164.62, "v": 96.6}, {"t": 165.38, "v": 93.3}, {"t": 166.09, "v": 85.5}, {"t": 166.56, "v": 77.6}, {"t": 167.39, "v": 83.2}, {"t": 168.16, "v": 86.6}, {"t": 169.04, "v": 79.5}, {"t": 169.63, "v": 76.7}, {"t": 170.22, "v": 84.0}, {"t": 170.7, "v": 83.2}, {"t": 170.93, "v": 84.0}, {"t": 171.52, "v": 82.5}, {"t": 172.0, "v": 86.6}, {"t": 172.88, "v": 80.4}, {"t": 173.65, "v": 80.4}, {"t": 174.95, "v": 88.4}, {"t": 176.13, "v": 93.8}, {"t": 177.01, "v": 86.9}, {"t": 177.9, "v": 78.0}, {"t": 178.78, "v": 83.6}, {"t": 179.55, "v": 83.2}, {"t": 180.14, "v": 81.7}, {"t": 180.85, "v": 85.5}, {"t": 181.56, "v": 91.4}, {"t": 182.33, "v": 89.2}, {"t": 183.8, "v": 89.2}, {"t": 184.57, "v": 96.2}, {"t": 185.28, "v": 95.5}, {"t": 186.16, "v": 90.7}, {"t": 186.46, "v": 80.6}, {"t": 187.22, "v": 76.7}, {"t": 187.82, "v": 85.8}, {"t": 188.52, "v": 81.0}, {"t": 189.23, "v": 87.3}, {"t": 190.0, "v": 86.2}
     ]},
      "mark": {"type": "line", "color": "#3c8ccc", "strokeWidth": 1.2, "clip": true}},
     {"mark": {"type": "point", "clip": true},
      "encoding": {
       "color": {"field": "s", "type": "nominal", "title": null, "scale": {"domain": ["HR", "Higher HR", "LowerHR"], "range": ["#3c8ccc", "#2ee82e", "#e8343c"]}, "legend": {"title": null, "legendX": 93, "legendY": -46}},
       "shape": {"field": "s", "type": "nominal", "title": null, "scale": {"domain": ["HR", "Higher HR", "LowerHR"], "range": ["M-4,0H4", "M-1,0H1M0,-1V1", "triangle-up"]}, "legend": {"title": null, "legendX": 93, "legendY": -46}}
      }},
     {"transform": [{"filter": "datum.s == 'Higher HR'"}],
      "mark": {"type": "point", "shape": "cross", "filled": true, "color": "#2ee82e", "size": 45, "opacity": 1, "clip": true}}
    ]
   },
   {
    "width": 284, "height": 204,
    "title": {"text": "ENGAGEMENT - Subject 3", "anchor": "middle", "frame": "group", "fontSize": 15.5, "fontWeight": "normal", "offset": 38},
    "encoding": {
      "x": {"field": "t", "type": "quantitative", "scale": {"domain": [140, 190], "nice": false, "zero": false}, "axis": {"title": "Time (s)", "values": [140, 150, 160, 170, 180, 190], "format": "d"}},
      "y": {"field": "v", "type": "quantitative", "scale": {"domain": [0, 120], "nice": false}, "axis": {"title": "RMSSD (ms)", "titlePadding": 8.5, "values": [0, 20, 40, 60, 80, 100, 120], "format": "d"}}
    },
    "layer": [
     {"data": {"values": [
      {"t": 140.0, "v": 35.4}, {"t": 140.7, "v": 41.3}, {"t": 141.41, "v": 41.3}, {"t": 142.17, "v": 22.0}, {"t": 142.76, "v": 22.0}, {"t": 143.35, "v": 79.7}, {"t": 143.93, "v": 79.7}, {"t": 144.69, "v": 41.7}, {"t": 145.4, "v": 36.4}, {"t": 146.57, "v": 39.3}, {"t": 147.04, "v": 17.7}, {"t": 147.75, "v": 17.7}, {"t": 148.8, "v": 29.1}, {"t": 149.21, "v": 24.6}, {"t": 149.98, "v": 7.9}, {"t": 150.56, "v": 7.9}, {"t": 151.27, "v": 37.0}, {"t": 151.85, "v": 37.0}, {"t": 152.44, "v": 27.5}, {"t": 153.15, "v": 27.5}, {"t": 154.2, "v": 59.0}, {"t": 154.79, "v": 87.0}, {"t": 155.55, "v": 87.0}, {"t": 156.43, "v": 61.4}, {"t": 157.14, "v": 61.4}, {"t": 157.72, "v": 7.9}, {"t": 158.43, "v": 7.9}, {"t": 159.37, "v": 39.3}, {"t": 160.07, "v": 51.2}, {"t": 160.95, "v": 51.2}, {"t": 161.83, "v": 25.6}, {"t": 162.71, "v": 25.6}, {"t": 163.47, "v": 72.4}, {"t": 164.18, "v": 72.4}, {"t": 165.06, "v": 30.5}, {"t": 165.47, "v": 30.5}, {"t": 166.12, "v": 89.5}, {"t": 166.82, "v": 89.5}, {"t": 167.58, "v": 32.5}, {"t": 168.4, "v": 32.5}, {"t": 168.99, "v": 69.8}, {"t": 169.58, "v": 69.8}, {"t": 170.34, "v": 34.4}, {"t": 171.81, "v": 34.4}, {"t": 172.98, "v": 43.3}, {"t": 173.86, "v": 43.3}, {"t": 174.74, "v": 19.7}, {"t": 175.33, "v": 19.7}, {"t": 176.38, "v": 49.2}, {"t": 177.09, "v": 45.6}, {"t": 177.79, "v": 45.2}, {"t": 178.56, "v": 7.9}, {"t": 179.14, "v": 7.9}, {"t": 180.02, "v": 39.7}, {"t": 181.08, "v": 39.7}, {"t": 181.67, "v": 14.8}, {"t": 182.08, "v": 14.8}, {"t": 182.96, "v": 39.3}, {"t": 183.66, "v": 39.3}, {"t": 184.43, "v": 21.6}, {"t": 185.01, "v": 21.6}, {"t": 185.77, "v": 67.9}, {"t": 186.6, "v": 67.9}, {"t": 187.65, "v": 66.3}, {"t": 188.53, "v": 39.7}, {"t": 189.41, "v": 39.7}, {"t": 190.0, "v": 22.6}
     ]},
      "mark": {"type": "line", "color": "#3c8ccc", "strokeWidth": 1.2, "clip": true}},
     {"data": {"values": [
      {"t": 147.28, "v": 17.3, "s": "LOW HRV"}, {"t": 149.98, "v": 7.5, "s": "LOW HRV"}, {"t": 157.84, "v": 7.5, "s": "LOW HRV"}, {"t": 174.74, "v": 19.7, "s": "LOW HRV"}, {"t": 178.85, "v": 7.5, "s": "LOW HRV"}, {"t": 181.67, "v": 14.2, "s": "LOW HRV"}
     ]},
      "mark": {"type": "point", "clip": true},
      "encoding": {
       "color": {"field": "s", "type": "nominal", "title": null, "scale": {"domain": ["RMSSD", "LOW HRV"], "range": ["#3c8ccc", "#e8343c"]}, "legend": {"title": null, "legendX": 93, "legendY": -38}},
       "shape": {"field": "s", "type": "nominal", "title": null, "scale": {"domain": ["RMSSD", "LOW HRV"], "range": ["M-4,0H4", "triangle-up"]}, "legend": {"title": null, "legendX": 93, "legendY": -38}}
      }}
    ]
   },
   {
    "width": 283, "height": 204,
    "encoding": {
      "x": {"field": "t", "type": "quantitative", "scale": {"domain": [140, 190], "nice": false, "zero": false}, "axis": {"title": "Time (s)", "values": [140, 150, 160, 170, 180, 190], "format": "d"}},
      "y": {"field": "v", "type": "quantitative", "scale": {"domain": [6.4, 6.8], "nice": false, "zero": false}, "axis": {"title": "RSA (ln(ms²))", "titlePadding": 2, "values": [6.4, 6.45, 6.5, 6.55, 6.6, 6.65, 6.7, 6.75, 6.8], "format": "~g"}}
    },
    "layer": [
     {"data": {"values": [
      {"t": 140.0, "v": 6.550}, {"t": 140.59, "v": 6.492}, {"t": 141.3, "v": 6.462}, {"t": 141.89, "v": 6.454}, {"t": 142.77, "v": 6.478}, {"t": 143.96, "v": 6.527}, {"t": 144.96, "v": 6.550}, {"t": 145.9, "v": 6.547}, {"t": 146.91, "v": 6.518}, {"t": 148.09, "v": 6.465}, {"t": 149.27, "v": 6.433}, {"t": 150.04, "v": 6.423}, {"t": 151.04, "v": 6.439}, {"t": 152.22, "v": 6.498}, {"t": 153.4, "v": 6.570}, {"t": 154.58, "v": 6.596}, {"t": 155.47, "v": 6.583}, {"t": 156.66, "v": 6.524}, {"t": 157.83, "v": 6.492}, {"t": 158.89, "v": 6.485}, {"t": 159.89, "v": 6.505}, {"t": 160.78, "v": 6.537}, {"t": 161.96, "v": 6.550}, {"t": 163.44, "v": 6.544}, {"t": 164.32, "v": 6.547}, {"t": 166.09, "v": 6.576}, {"t": 167.57, "v": 6.616}, {"t": 169.04, "v": 6.614}, {"t": 170.22, "v": 6.570}, {"t": 171.99, "v": 6.557}, {"t": 173.77, "v": 6.557}, {"t": 175.24, "v": 6.563}, {"t": 176.72, "v": 6.590}, {"t": 178.19, "v": 6.606}, {"t": 179.37, "v": 6.596}, {"t": 180.55, "v": 6.550}, {"t": 181.74, "v": 6.505}, {"t": 182.62, "v": 6.475}, {"t": 183.51, "v": 6.471}, {"t": 184.51, "v": 6.505}, {"t": 185.57, "v": 6.570}, {"t": 186.75, "v": 6.599}, {"t": 187.64, "v": 6.599}, {"t": 188.82, "v": 6.573}, {"t": 190.0, "v": 6.544}
     ]},
      "mark": {"type": "line", "color": "#3c8ccc", "strokeWidth": 1.2, "clip": true, "interpolate": "monotone"}},
     {"data": {"values": [
      {"t": 143.36, "v": 6.456, "s": "Lower RSA"}, {"t": 152.63, "v": 6.426, "s": "Lower RSA"}, {"t": 159.48, "v": 6.48, "s": "Lower RSA"}, {"t": 184.69, "v": 6.471, "s": "Lower RSA"}
     ]},
      "mark": {"type": "point", "clip": true},
      "encoding": {
       "color": {"field": "s", "type": "nominal", "title": null, "scale": {"domain": ["RSA", "Lower RSA"], "range": ["#3c8ccc", "#e8343c"]}, "legend": {"title": null, "legendX": 88, "legendY": -38}},
       "shape": {"field": "s", "type": "nominal", "title": null, "scale": {"domain": ["RSA", "Lower RSA"], "range": ["M-4,0H4", "triangle-up"]}, "legend": {"title": null, "legendX": 88, "legendY": -38}}
      }}
    ]
   }
  ]
 }
]
}
